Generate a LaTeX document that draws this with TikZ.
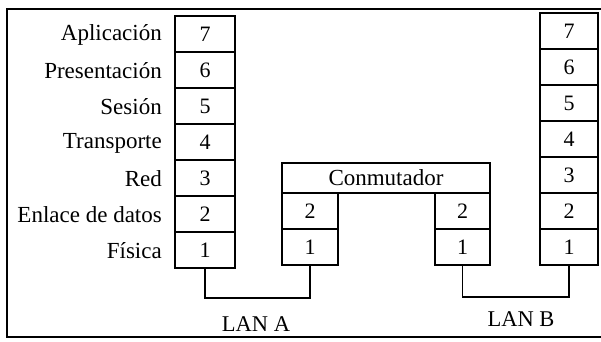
\documentclass[tikz,border=0pt]{standalone}
\usepackage{fontspec}
\setmainfont{Liberation Serif}
\begin{document}
\begin{tikzpicture}[x=1pt,y=-1pt,
  lw/.style={line width=1.4pt},
  layerbox/.style={draw,lw,rectangle,inner sep=0pt,minimum width=#1,minimum height=36pt,font=\fontsize{22}{24}\selectfont},
  layerbox/.default=60pt,
  lbl/.style={anchor=east,inner sep=0pt,font=\fontsize{23}{25}\selectfont},
  lan/.style={inner sep=0pt,font=\fontsize{22.5}{25}\selectfont},
  wire/.style={draw,lw}]
\useasboundingbox (0,0) rectangle (601,341);
% outer frame (open at right)
\draw[lw] (601,9) -- (7,9) -- (7,337) -- (601,337);
% left stack
\node[layerbox] (L7) at (205,34) {7};
\node[layerbox] (L6) at (205,70) {6};
\node[layerbox] (L5) at (205,106) {5};
\node[layerbox] (L4) at (205,142) {4};
\node[layerbox] (L3) at (205,178) {3};
\node[layerbox] (L2) at (205,214) {2};
\node[layerbox] (L1) at (205,250) {1};
% labels
\node[lbl] (t7) at (162,35) {Aplicación};
\node[lbl] (t6) at (162,71) {Presentación};
\node[lbl] (t5) at (162,107) {Sesión};
\node[lbl] (t4) at (162,143) {Transporte};
\node[lbl] (t3) at (162,179) {Red};
\node[lbl] (t2) at (162,215) {Enlace de datos};
\node[lbl] (t1) at (162,251) {Física};
% right stack
\node[layerbox=58pt] (R7) at (569,31) {7};
\node[layerbox=58pt] (R6) at (569,67) {6};
\node[layerbox=58pt] (R5) at (569,103) {5};
\node[layerbox=58pt] (R4) at (569,139) {4};
\node[layerbox=58pt] (R3) at (569,175) {3};
\node[layerbox=58pt] (R2) at (569,211) {2};
\node[layerbox=58pt] (R1) at (569,247) {1};
% switch
\node[draw,lw,rectangle,inner sep=0pt,minimum width=208pt,minimum height=30pt,font=\fontsize{23}{25}\selectfont] (C) at (386,178) {Conmutador};
\node[layerbox=56pt] (SA2) at (310,211) {2};
\node[layerbox=56pt] (SA1) at (310,247) {1};
\node[layerbox=55pt] (SB2) at (462.5,211) {2};
\node[layerbox=55pt] (SB1) at (462.5,247) {1};
% LAN wires
\coordinate (wa) at (256,298);
\coordinate (wb) at (518,297);
\draw[wire] (L1.south) |- (wa) -| (SA1.south);
\draw[wire] (SB1.south) |- (wb) -| (R1.south);
\node[lan] (lanA) at (256,324) {LAN A};
\node[lan] (lanB) at (521,319) {LAN B};
\end{tikzpicture}
\end{document}
